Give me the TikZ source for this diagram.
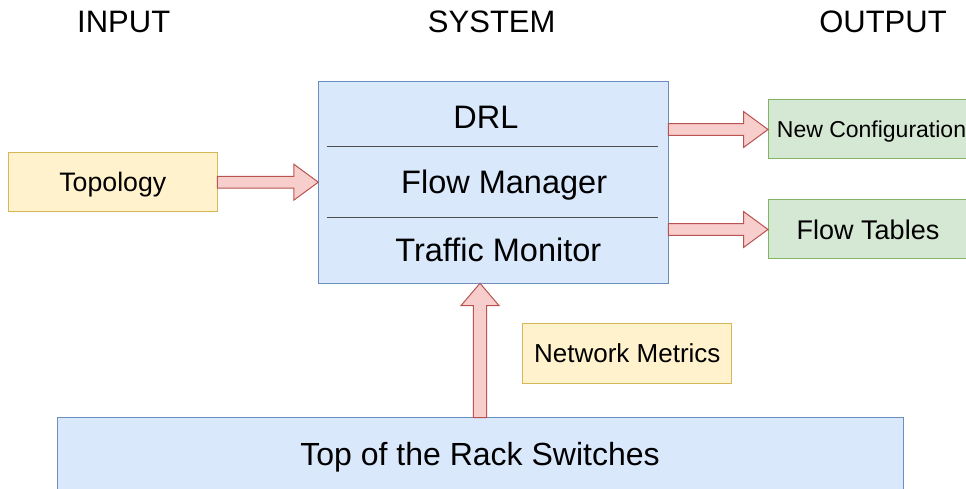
\documentclass[tikz,border=0pt]{standalone}
\usepackage{fontspec}
\setmainfont{Liberation Sans}
\usetikzlibrary{calc}

\definecolor{bluefill}{HTML}{DAE8FC}
\definecolor{bluedraw}{HTML}{6C8EBF}
\definecolor{yellowfill}{HTML}{FFF2CC}
\definecolor{yellowdraw}{HTML}{D6B656}
\definecolor{greenfill}{HTML}{D5E8D4}
\definecolor{greendraw}{HTML}{82B366}
\definecolor{redfill}{HTML}{F8CECC}
\definecolor{reddraw}{HTML}{B85450}
\definecolor{sepline}{HTML}{4D4D4D}

\newcommand{\fsz}[1]{\fontsize{#1}{#1}\selectfont}

% block arrow pointing right, from anchor #1 to the x of anchor #2
\newcommand{\rightfat}[2]{%
  \draw[fatarrow] let \p1=(#1), \p2=(#2) in
    (\x1,\y1+5.9pt) -- (\x2-24.5pt,\y1+5.9pt) -- (\x2-24.5pt,\y1+18pt)
    -- (\x2,\y1) -- (\x2-24.5pt,\y1-18pt) -- (\x2-24.5pt,\y1-5.9pt)
    -- (\x1,\y1-5.9pt) -- cycle;}
% block arrow pointing up, from anchor #1 to the y of anchor #2
\newcommand{\upfat}[2]{%
  \draw[fatarrow] let \p1=(#1), \p2=(#2) in
    (\x1-6.7pt,\y1) -- (\x1-6.7pt,\y2-22.3pt) -- (\x1-19pt,\y2-22.3pt)
    -- (\x1,\y2) -- (\x1+19pt,\y2-22.3pt) -- (\x1+6.7pt,\y2-22.3pt)
    -- (\x1+6.7pt,\y1) -- cycle;}

\tikzset{
  box/.style={draw, line width=1pt, inner sep=0pt, outer sep=0pt, text depth=0pt},
  bluebox/.style={box, fill=bluefill, draw=bluedraw},
  yellowbox/.style={box, fill=yellowfill, draw=yellowdraw},
  greenbox/.style={box, fill=greenfill, draw=greendraw},
  fatarrow/.style={fill=redfill, draw=reddraw, line width=1pt, line join=miter},
  heading/.style={font=\fsz{31}, anchor=base, inner sep=0pt},
  layer/.style={font=\fsz{32.5}, anchor=base, inner sep=0pt},
  separator/.style={draw=sepline, line width=1pt},
}

\begin{document}
\begin{tikzpicture}[x=1pt, y=1pt]
  \useasboundingbox (0,0) rectangle (966,489);

  % column headings
  \node[heading] (hin)  at (123.7,456) {INPUT};
  \node[heading] (hsys) at (491.7,456) {SYSTEM};
  \node[heading] (hout) at (883,456)   {OUTPUT};

  % system block with its three layers
  \node[bluebox, minimum width=350, minimum height=201.6] (sys) at (493.3,306.5) {};
  \draw[separator] ($(sys.north west)+(8.4,-65)$) -- ($(sys.north east)+(-10,-65)$);
  \draw[separator] ($(sys.north west)+(8.4,-136)$) -- ($(sys.north east)+(-10,-136)$);
  \node[layer] (drl) at (486,360.7)   {DRL};
  \node[layer] (fm)  at (504.2,295)   {Flow Manager};
  \node[layer] (tm)  at (498.3,227.3) {Traffic Monitor};

  % input
  \node[yellowbox, minimum width=209, minimum height=59, font=\fsz{26.7}] (topo) at (112.8,306.8) {Topology};

  % outputs
  \node[greenbox, minimum width=207, minimum height=59, font=\fsz{23}] (newcfg) at (871.5,359.5) {New Configuration};
  \node[greenbox, minimum width=200, minimum height=59, font=\fsz{27}] (flowtab) at (868,259.5) {Flow Tables};

  % metrics label
  \node[yellowbox, minimum width=209.3, minimum height=60, font=\fsz{26}] (netm) at (627.3,135.7) {Network Metrics};

  % switches
  \node[bluebox, minimum width=846, minimum height=71.6, font=\fsz{32}] (tor) at (480,35.5) {Top of the Rack Switches};

  % connectors
  \rightfat{topo.east}{sys.west}
  \rightfat{sys.east |- newcfg.west}{newcfg.west}
  \rightfat{sys.east |- flowtab.west}{flowtab.west}
  \upfat{tor.north}{tor.north |- sys.south}
\end{tikzpicture}
\end{document}
